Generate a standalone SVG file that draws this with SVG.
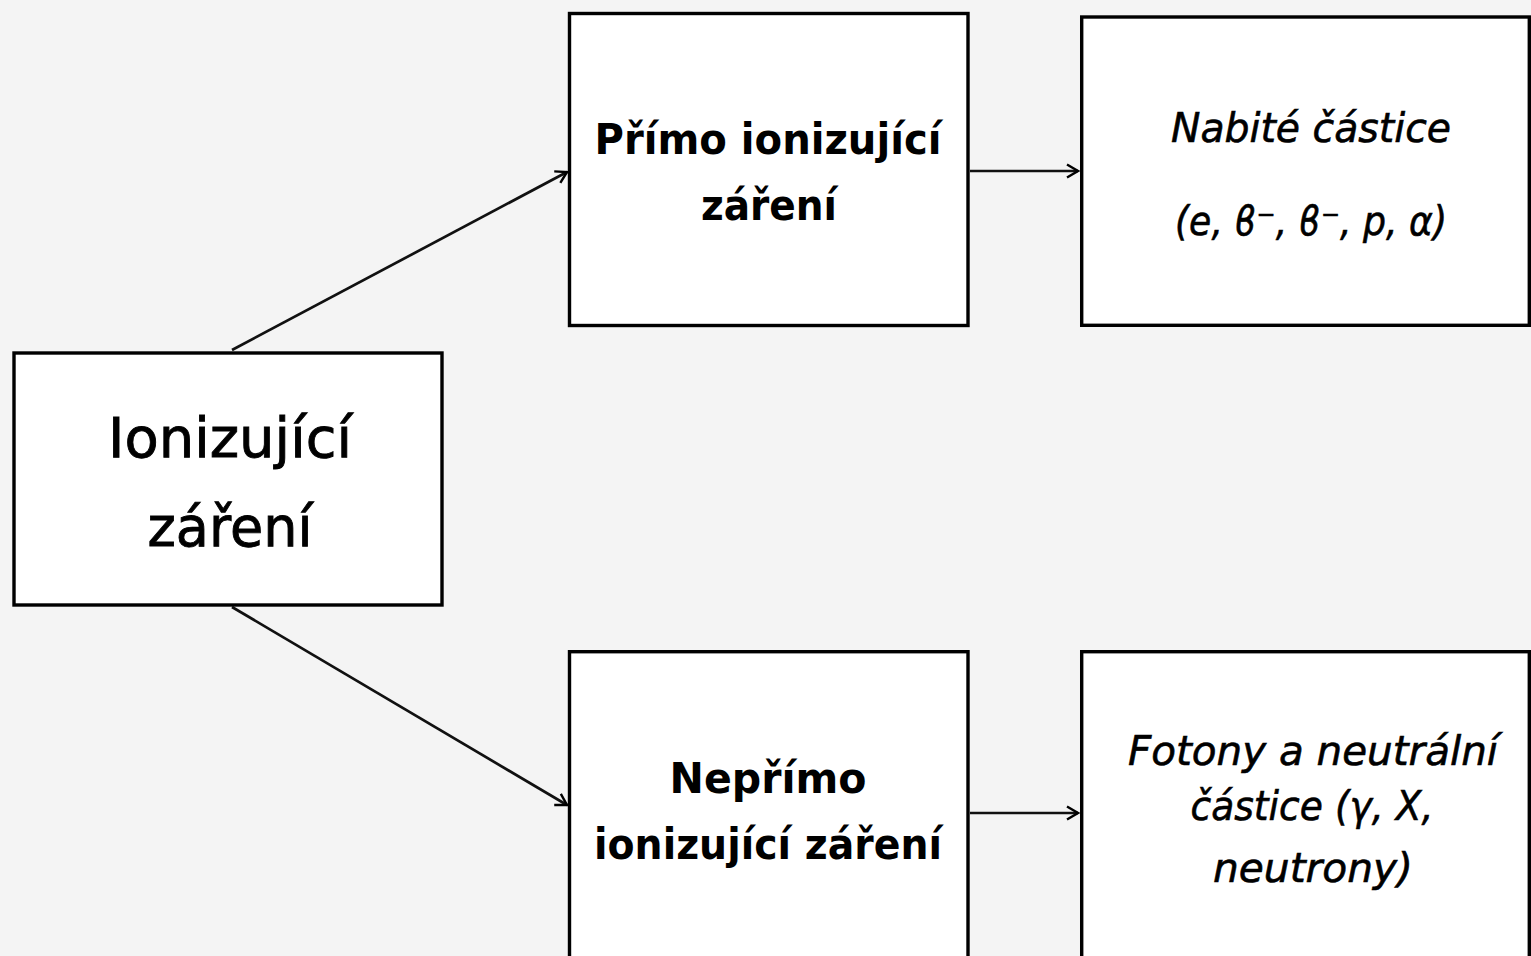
<svg xmlns="http://www.w3.org/2000/svg" width="1531" height="956" viewBox="0 0 1531 956">
  <style>
    .box { fill: #ffffff; stroke: #000000; stroke-width: 3.4; }
    .conn { stroke: #111111; stroke-width: 2.7; fill: none; }
    .bold { font-family: "DejaVu Sans", Verdana, sans-serif; font-weight: bold; font-size: 43px; fill: #000; }
    .reg { font-family: "DejaVu Sans", Verdana, sans-serif; font-size: 56px; fill: #000; stroke: #000; stroke-width: 0.9; }
    .ital { font-family: "DejaVu Sans", Verdana, sans-serif; font-style: italic; font-size: 40px; fill: #000; stroke: #000; stroke-width: 0.6; }
  </style>
  <defs>
    <marker id="arrow" markerUnits="userSpaceOnUse" markerWidth="16" markerHeight="16" viewBox="0 0 16 16" refX="14" refY="8" orient="auto">
      <path d="M3,1.5 L14,8 L3,14.5" fill="none" stroke="#000" stroke-width="2.4"/>
    </marker>
  </defs>
  <rect x="0" y="0" width="1531" height="956" fill="#f4f4f4"/>

  <g id="connectors">
    <line class="conn" x1="232" y1="350" x2="567" y2="172" marker-end="url(#arrow)"/>
    <line class="conn" x1="232" y1="607" x2="567" y2="805" marker-end="url(#arrow)"/>
    <line class="conn" x1="970" y1="171" x2="1078" y2="171" marker-end="url(#arrow)"/>
    <line class="conn" x1="970" y1="813" x2="1078" y2="813" marker-end="url(#arrow)"/>
  </g>

  <g id="ionizujici">
    <rect class="box" x="14" y="353" width="428" height="252"/>
    <text class="reg" x="230" y="457" text-anchor="middle" textLength="244" lengthAdjust="spacingAndGlyphs">Ionizující</text>
    <text class="reg" x="230" y="546" text-anchor="middle" textLength="165" lengthAdjust="spacingAndGlyphs">záření</text>
  </g>

  <g id="primo">
    <rect class="box" x="569.5" y="13.5" width="398.5" height="312"/>
    <text class="bold" x="768" y="154" text-anchor="middle" textLength="347" lengthAdjust="spacingAndGlyphs">Přímo ionizující</text>
    <text class="bold" x="769" y="220" text-anchor="middle" textLength="136" lengthAdjust="spacingAndGlyphs">záření</text>
  </g>

  <g id="neprimo">
    <rect class="box" x="569.5" y="651.7" width="398.5" height="320"/>
    <text class="bold" x="768" y="793" text-anchor="middle" textLength="197" lengthAdjust="spacingAndGlyphs">Nepřímo</text>
    <text class="bold" x="768" y="859" text-anchor="middle" textLength="348" lengthAdjust="spacingAndGlyphs">ionizující záření</text>
  </g>

  <g id="nabite">
    <rect class="box" x="1081.7" y="17" width="447.6" height="308.3"/>
    <text class="ital" x="1311" y="142" text-anchor="middle" textLength="280" lengthAdjust="spacingAndGlyphs">Nabité částice</text>
    <text class="ital" x="1311" y="235" text-anchor="middle" textLength="272" lengthAdjust="spacingAndGlyphs">(e, ϐ⁻, ϐ⁻, p, α)</text>
  </g>

  <g id="fotony">
    <rect class="box" x="1081.7" y="651.7" width="447.6" height="320"/>
    <text class="ital" x="1313" y="765" text-anchor="middle" textLength="370" lengthAdjust="spacingAndGlyphs">Fotony a neutrální</text>
    <text class="ital" x="1312" y="820" text-anchor="middle" textLength="243" lengthAdjust="spacingAndGlyphs">částice (γ, X,</text>
    <text class="ital" x="1313" y="882" text-anchor="middle" textLength="200" lengthAdjust="spacingAndGlyphs">neutrony)</text>
  </g>
</svg>
